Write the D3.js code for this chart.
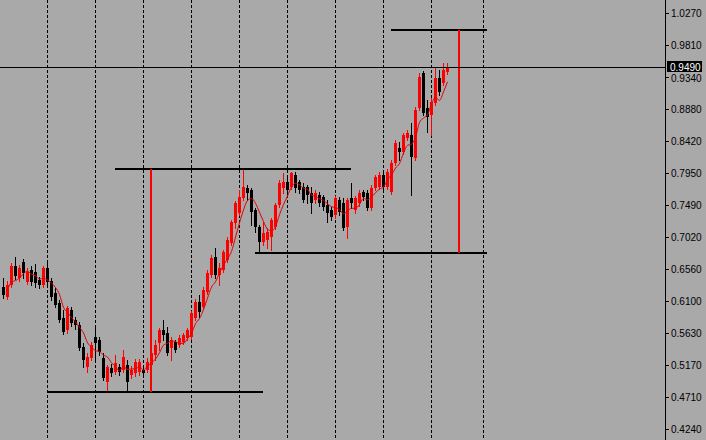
<!DOCTYPE html>
<html><head><meta charset="utf-8">
<script src="https://cdn.jsdelivr.net/npm/d3@7"></script>
<style>html,body{margin:0;padding:0;background:#a9a9a9;overflow:hidden}svg{display:block}</style>
</head><body><svg id="c" width="706" height="440"></svg>
<script>
const opens=[.6297,.6152,.6326,.6601,.6427,.6659,.6369,.6543,.6514,.6398,.6326,.6572,.6383,.6210,.6065,.5847,.5673,.5963,.5818,.5746,
.5427,.5137,.5267,.5572,.5528,.5267,.4919,.5122,.5064,.5137,.5093,.5166,.5021,.5050,.5064,.5093,.5093,.5166,.5311,.5485,
.5673,.5630,.5412,.5499,.5456,.5499,.5557,.5572,.5847,.6079,.6007,.6224,.6471,.6732,.6471,.6543,.6688,.6935,.7225,.7370,
.7587,.7732,.7703,.7413,.7167,.6949,.6978,.7022,.7167,.7486,.7732,.7819,.7747,.7921,.7819,.7747,.7747,.7660,.7558,.7631,
.7602,.7486,.7413,.7341,.7558,.7515,.7167,.7587,.7413,.7515,.7674,.7660,.7442,.7732,.7747,.7921,.7747,.7674,.8094,.8312,
.8254,.8457,.8500,.8167,.8892,.9400,.8892,.8791,.8965,.9327,.9255,.9414];
const highs=[.6427,.6383,.6645,.6732,.6616,.6703,.6572,.6601,.6630,.6442,.6601,.6645,.6427,.6282,.6108,.5963,.6021,.6007,.5862,.5789,
.5485,.5340,.5499,.5702,.5572,.5340,.5166,.5180,.5311,.5180,.5383,.5238,.5151,.5253,.5253,.5151,.5267,.5383,.5528,.5702,
.5818,.5717,.5572,.5528,.5601,.5630,.5702,.5949,.6123,.6181,.6297,.6543,.6761,.6862,.6645,.6833,.7022,.7268,.7544,.7703,
.7993,.7776,.7732,.7442,.7196,.7239,.7152,.7297,.7515,.7848,.7950,.7921,.7964,.7964,.7848,.7805,.7776,.7747,.7703,.7674,
.7631,.7558,.7457,.7616,.7602,.7587,.7587,.7805,.7616,.7703,.7703,.7703,.7776,.7921,.7964,.7993,.8008,.8138,.8428,.8399,
.8530,.8573,.8674,.8907,.9400,.9429,.9008,.9037,.9472,.9443,.9545,.9545];
const lows=[.6137,.6122,.6297,.6413,.6383,.6427,.6340,.6326,.6297,.6282,.6297,.6297,.6108,.6007,.5789,.5615,.5630,.5731,.5688,.5383,
.5137,.5064,.5238,.5238,.5311,.4948,.4803,.5006,.5035,.5021,.5064,.4803,.4977,.5006,.5021,.5006,.5064,.5137,.5238,.5383,
.5528,.5311,.5238,.5354,.5427,.5470,.5528,.5543,.5818,.5862,.5978,.6195,.6442,.6427,.6326,.6514,.6659,.6906,.7152,.7341,
.7558,.7558,.7196,.7094,.6804,.6906,.6862,.6833,.7138,.7457,.7660,.7631,.7718,.7674,.7660,.7529,.7515,.7370,.7515,.7471,
.7413,.7239,.7268,.7297,.7341,.7123,.7007,.7442,.7370,.7471,.7558,.7413,.7413,.7703,.7718,.7718,.7718,.7645,.8065,.8138,
.8225,.8428,.7631,.8138,.8863,.8791,.8544,.8500,.8936,.9081,.9226,.9385];
const closes=[.6181,.6326,.6601,.6456,.6572,.6500,.6514,.6369,.6355,.6326,.6572,.6369,.6152,.6036,.5818,.5644,.5992,.5775,.5746,.5412,
.5238,.5282,.5456,.5485,.5354,.4977,.5137,.5050,.5195,.5064,.5282,.4919,.5093,.5209,.5209,.5050,.5209,.5340,.5456,.5673,
.5601,.5340,.5528,.5383,.5557,.5601,.5673,.5919,.6079,.5934,.6253,.6500,.6717,.6471,.6572,.6804,.6978,.7239,.7515,.7602,
.7747,.7660,.7384,.7167,.6949,.7080,.7094,.7268,.7486,.7805,.7819,.7703,.7950,.7732,.7703,.7558,.7631,.7515,.7660,.7515,
.7457,.7370,.7312,.7587,.7384,.7152,.7558,.7515,.7587,.7660,.7602,.7442,.7732,.7892,.7921,.7747,.7964,.8094,.8384,.8254,
.8500,.8530,.8182,.8863,.9342,.8820,.8762,.8979,.9327,.9124,.9443,.9490];
const tickLabels=["1.0270","0.9810","0.9340","0.8880","0.8420","0.7950","0.7490","0.7020","0.6560","0.6100","0.5630","0.5170","0.4710","0.4240"];
const gridBars=[11,23,35,47,59,71,83,95,107,120];
const levelPrices=[0.4774,0.8008,0.6790,1.0023];
const levelStartBars=[11,28,63.1,97];
const levelEndBars=[65,87,121,121];
const markerBars=[37,114];
const markerTop=[0.8008,1.0023];
const markerBottom=[0.4774,0.6790];
const lastPrice=0.9490;
const maPeriod=5;

const W=706,H=440,axisX=665.5;
const svg=d3.select("#c");
const x=d3.scaleLinear().domain([0,1]).range([3.5,7.5]);
const y=d3.scaleLinear().domain([0.424,1.027]).range([429,13]);
const ry=v=>Math.round(y(v));

svg.append("rect").attr("width",W).attr("height",H).attr("fill","#a9a9a9");

// grid
svg.append("g").selectAll("line").data(gridBars).join("line")
 .attr("x1",d=>Math.floor(x(d))+0.5).attr("x2",d=>Math.floor(x(d))+0.5)
 .attr("y1",0).attr("y2",H).attr("stroke","#000").attr("stroke-dasharray","3,2")
 .attr("shape-rendering","crispEdges");

// level lines
svg.append("g").selectAll("line").data(levelPrices).join("line")
 .attr("x1",(d,i)=>Math.floor(x(levelStartBars[i]))).attr("x2",(d,i)=>Math.floor(x(levelEndBars[i])))
 .attr("y1",d=>ry(d)).attr("y2",d=>ry(d)).attr("stroke","#000").attr("stroke-width",2)
 .attr("shape-rendering","crispEdges");

// candles
const idx=d3.range(opens.length);
const cg=svg.append("g").attr("shape-rendering","crispEdges");
cg.selectAll("line").data(idx).join("line")
 .attr("x1",i=>x(i)).attr("x2",i=>x(i))
 .attr("y1",i=>ry(highs[i])).attr("y2",i=>ry(lows[i])+1)
 .attr("stroke",i=>closes[i]>=opens[i]?"#ff0000":"#000");
cg.selectAll("rect").data(idx).join("rect")
 .attr("x",i=>x(i)-1.5).attr("width",3)
 .attr("y",i=>Math.min(ry(opens[i]),ry(closes[i])))
 .attr("height",i=>Math.max(1,Math.abs(ry(opens[i])-ry(closes[i]))))
 .attr("fill",i=>closes[i]>=opens[i]?"#ff0000":"#000");

// moving average
const ma=idx.slice(1).map(i=>{const s=Math.max(0,i-maPeriod+1);return [i,d3.mean(closes.slice(s,i+1))];});
svg.append("path").datum(ma).attr("fill","none").attr("stroke","#e00000").attr("stroke-width",1)
 .attr("d",d3.line().x(d=>x(d[0])).y(d=>y(d[1])).curve(d3.curveMonotoneX));

// red marker lines
svg.append("g").selectAll("line").data(markerBars).join("line")
 .attr("x1",d=>Math.floor(x(d))).attr("x2",d=>Math.floor(x(d)))
 .attr("y1",(d,i)=>ry(markerTop[i])).attr("y2",(d,i)=>ry(markerBottom[i]))
 .attr("stroke","#ff0000").attr("stroke-width",2).attr("shape-rendering","crispEdges");

// last price line
svg.append("line").attr("x1",0).attr("x2",axisX).attr("y1",ry(lastPrice)+0.5).attr("y2",ry(lastPrice)+0.5)
 .attr("stroke","#000").attr("shape-rendering","crispEdges");

// axis
svg.append("line").attr("x1",axisX).attr("x2",axisX).attr("y1",0).attr("y2",H).attr("stroke","#000")
 .attr("shape-rendering","crispEdges");
const tg=svg.append("g").selectAll("g").data(tickLabels).join("g")
 .attr("transform",d=>`translate(0,${ry(+d)+0.5})`);
tg.append("line").attr("x1",666).attr("x2",669).attr("stroke","#000").attr("shape-rendering","crispEdges");
tg.append("text").attr("x",671).attr("y",d=>d==="0.9340"?4.5:3.5).text(d=>d)
 .attr("font-family","'Liberation Sans',Arial,sans-serif").attr("font-size","10px").attr("fill","#000");

// last price tag
const ly=ry(lastPrice);
svg.append("rect").attr("x",667).attr("y",ly-6).attr("width",35).attr("height",11).attr("fill","#000");
svg.append("text").attr("x",670).attr("y",ly+3.5).text(lastPrice.toFixed(4))
 .attr("font-family","'Liberation Sans',Arial,sans-serif").attr("font-size","10px").attr("fill","#fff");
</script></body></html>
